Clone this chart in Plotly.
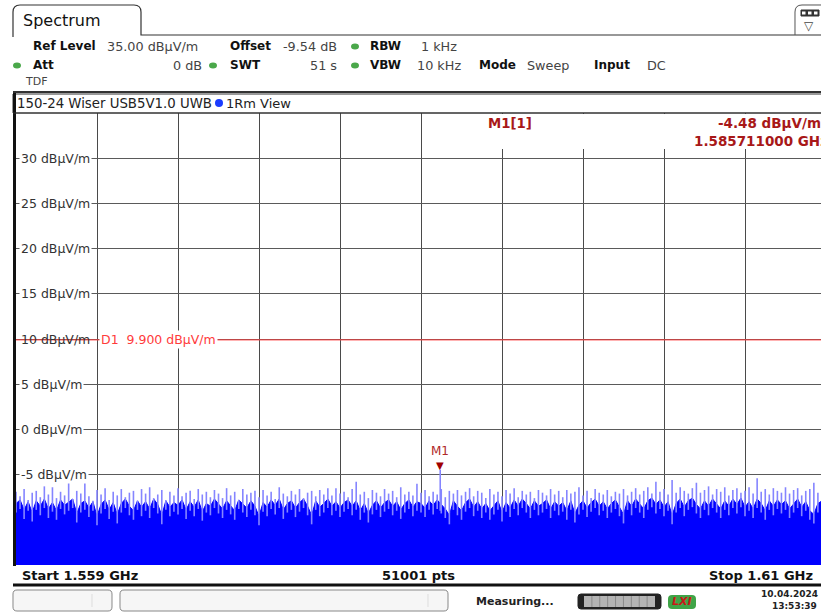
import plotly.graph_objects as go

# ---------------- data ----------------
f_start_ghz = 1.559
f_stop_ghz = 1.61
n_points_label = "51001 pts"
ref_level_db = 35.0
db_per_div = 5.0
n_div = 10
d1_level_db = 9.9
m1_freq_ghz = 1.585711
m1_level_db = -4.48

y_tick_values = [30, 25, 20, 15, 10, 5, 0, -5]

# spike tops of the trace (dBuV/m), one value per ~1/200 of the span
peak_db = [
    -6.9, -7.4, -6.6, -7.8, -7.0, -6.8, -7.5, -6.3, -7.2, -6.4,
    -7.6, -6.9, -7.3, -5.9, -7.7, -6.8, -7.1, -5.6, -7.4, -7.9,
    -6.7, -7.2, -6.5, -7.8, -6.9, -7.3, -6.6, -7.5, -7.0, -6.8,
    -7.9, -6.6, -7.1, -6.4, -7.6, -7.2, -6.7, -7.8, -6.9, -7.3,
    -6.5, -7.4, -7.0, -6.8, -7.7, -6.6, -7.2, -6.9, -7.5, -6.7,
    -7.1, -7.6, -6.5, -7.3, -6.9, -7.8, -6.6, -7.2, -7.0, -6.8,
    -7.5, -6.7, -7.3, -6.9, -7.7, -6.4, -7.1, -7.4, -6.8, -7.2,
    -6.6, -7.6, -7.0, -6.8, -7.4, -6.7, -7.2, -6.5, -7.3, -6.5,
    -7.1, -6.9, -7.5, -6.6, -5.8, -7.2, -6.9, -7.6, -6.7, -7.0,
    -7.4, -6.6, -7.1, -6.8, -7.5, -6.4, -7.2, -6.9, -7.3, -6.0,
    -7.0, -6.7, -7.4, -6.9, -7.2, -6.6, -7.5, -6.8, -7.1, -6.7,
    -7.3, -6.9, -6.5, -7.4, -6.8, -7.0, -7.6, -6.6, -7.2, -6.9,
    -7.4, -6.7, -7.1, -6.5, -7.5, -6.8, -7.2, -6.9, -7.6, -6.7,
    -7.0, -7.3, -6.6, -7.2, -6.8, -7.5, -6.7, -7.1, -6.9, -6.4,
    -7.3, -6.8, -7.6, -6.6, -7.0, -7.2, -6.7, -7.4, -6.9, -7.1,
    -6.6, -7.3, -6.9, -6.5, -7.2, -6.8, -6.4, -7.1, -5.8, -6.9,
    -6.6, -7.2, -5.6, -7.0, -6.4, -6.8, -7.1, -6.5, -5.9, -7.0,
    -6.7, -6.3, -7.2, -6.6, -6.9, -6.4, -7.3, -6.7, -6.5, -7.0,
    -6.8, -6.4, -7.1, -5.4, -6.9, -6.6, -7.2, -6.5, -6.8, -7.0,
    -6.4, -7.1, -6.7, -6.5, -7.3, -6.8, -6.6, -5.9, -7.0, -6.7,
    -6.9,
]

# top of the dense (solid) part of the trace (dBuV/m)
floor_db = [
    -8.2, -7.8, -8.9, -8.0, -9.2, -7.9, -8.5, -7.7, -8.8, -8.1,
    -9.0, -7.8, -8.4, -8.0, -7.7, -9.3, -8.2, -7.9, -8.7, -8.0,
    -9.6, -8.3, -7.8, -8.9, -8.1, -9.4, -8.2, -7.7, -8.5, -9.0,
    -7.9, -8.6, -8.0, -8.8, -7.7, -8.3, -9.5, -7.9, -8.6, -8.1,
    -8.4, -7.8, -8.9, -8.0, -8.6, -7.8, -9.1, -8.2, -8.5, -7.7,
    -8.3, -8.8, -7.9, -8.4, -9.0, -7.8, -8.2, -8.7, -7.9, -8.5,
    -9.6, -8.1, -8.6, -7.8, -8.4, -7.7, -8.9, -8.2, -7.9, -8.7,
    -8.1, -7.7, -8.5, -9.5, -7.9, -8.6, -8.2, -7.7, -8.5, -8.0,
    -8.7, -8.1, -7.8, -8.5, -7.9, -9.0, -8.2, -9.3, -8.4, -7.9,
    -8.7, -8.1, -7.8, -8.5, -8.0, -8.9, -8.2, -7.8, -8.6, -8.0,
    -8.2, -8.7, -7.9, -8.4, -7.8, -8.3, -8.8, -9.5, -7.9, -8.5,
    -9.0, -8.1, -7.7, -8.6, -8.0, -8.8, -8.2, -9.0, -8.4, -7.9,
    -9.2, -8.1, -8.7, -7.8, -8.5, -7.7, -8.2, -8.8, -7.9, -8.5,
    -8.2, -7.8, -8.8, -8.0, -8.5, -8.1, -9.0, -7.9, -9.3, -8.4,
    -7.9, -8.7, -8.1, -7.7, -8.5, -8.0, -8.8, -8.2, -7.8, -8.6,
    -9.4, -7.9, -8.5, -7.7, -8.2, -8.8, -7.9, -7.6, -8.3, -7.8,
    -8.6, -8.0, -9.5, -8.2, -7.7, -8.6, -7.9, -7.6, -8.3, -8.8,
    -7.9, -8.5, -7.7, -8.2, -8.8, -7.9, -8.5, -7.7, -8.3, -7.6,
    -8.6, -8.0, -8.8, -7.7, -8.2, -9.0, -7.9, -8.5, -7.8, -8.3,
    -7.9, -8.8, -8.2, -7.7, -8.6, -8.0, -9.0, -9.4, -8.2, -7.9,
    -8.5,
]

# ---------------- derived ----------------
span = f_stop_ghz - f_start_ghz
n = len(peak_db)
freqs = [f_start_ghz + span * i / (n - 1) for i in range(n)]
y_min = ref_level_db - n_div * db_per_div

# ---------------- geometry helpers (pixels -> paper) ----------------
W, H = 821, 613
PL, PR, PT, PB = 16, 821, 113, 565
GRID_W = 810  # full 10-division grid width in px (screen is cropped at the right)


def px(x):
    return (x - PL) / (PR - PL)


def py(y):
    return (PB - y) / (PB - PT)


def P(x, y):
    return f"{px(x):.5f},{py(y):.5f}"


x_max_visible = f_start_ghz + span * (PR - PL) / GRID_W

FONT = "DejaVu Sans"
BLUE = "#0000ff"
SPIKE = "#8585ff"
DRED = "#a81818"
RED = "#ff3b3b"
VAL = 12.8

fig = go.Figure()

# spikes
sx, sy = [], []
for f, lo, hi in zip(freqs, floor_db, peak_db):
    sx += [f, f, None]
    sy += [lo - 1.0, hi, None]
sx += [m1_freq_ghz, m1_freq_ghz, None]
sy += [-9.0, m1_level_db, None]

# baseline at bottom of screen for filling
fig.add_trace(go.Scatter(x=freqs, y=[y_min] * n, mode="lines",
                         line=dict(width=0, color=BLUE), hoverinfo="skip",
                         showlegend=False))
fig.add_trace(go.Scatter(x=freqs, y=floor_db, mode="lines", fill="tonexty",
                         fillcolor=BLUE, line=dict(width=1, color=BLUE),
                         hoverinfo="skip", showlegend=False))
fig.add_trace(go.Scatter(x=sx, y=sy, mode="lines",
                         line=dict(width=1.6, color=SPIKE),
                         hoverinfo="skip", showlegend=False))

shapes = []
ann = []


def txt(x, y, s, size=12, color="#222", anchor="left", bold=False, bg=None,
        family=FONT, italic=False):
    if bold:
        s = f"<b>{s}</b>"
    if italic:
        s = f"<i>{s}</i>"
    d = dict(xref="paper", yref="paper", x=px(x), y=py(y), text=s,
             showarrow=False, xanchor=anchor, yanchor="middle",
             font=dict(family=family, size=size, color=color), borderpad=0)
    if bg:
        d["bgcolor"] = bg
    ann.append(d)


def rect(x0, y0, x1, y1, fill=None, line="#333", lw=1, layer="above"):
    shapes.append(dict(type="rect", xref="paper", yref="paper",
                       x0=px(x0), x1=px(x1), y0=py(y0), y1=py(y1),
                       fillcolor=fill if fill else "rgba(0,0,0,0)",
                       line=dict(color=line, width=lw), layer=layer))


def hline(x0, x1, y, color="#333", lw=1):
    shapes.append(dict(type="line", xref="paper", yref="paper",
                       x0=px(x0), x1=px(x1), y0=py(y), y1=py(y),
                       line=dict(color=color, width=lw)))


def vline(x, y0, y1, color="#333", lw=1):
    shapes.append(dict(type="line", xref="paper", yref="paper",
                       x0=px(x), x1=px(x), y0=py(y0), y1=py(y1),
                       line=dict(color=color, width=lw)))


def dot(x, y, rx, ry, color):
    shapes.append(dict(type="circle", xref="paper", yref="paper",
                       x0=px(x - rx), x1=px(x + rx), y0=py(y + ry), y1=py(y - ry),
                       fillcolor=color, line=dict(width=0)))


def rpath(x0, y0, x1, y1, r):
    return (f"M {P(x0 + r, y0)} L {P(x1 - r, y0)} Q {P(x1, y0)} {P(x1, y0 + r)} "
            f"L {P(x1, y1 - r)} Q {P(x1, y1)} {P(x1 - r, y1)} L {P(x0 + r, y1)} "
            f"Q {P(x0, y1)} {P(x0, y1 - r)} L {P(x0, y0 + r)} Q {P(x0, y0)} {P(x0 + r, y0)} Z")


# tab outline and header line
shapes.append(dict(type="path", xref="paper", yref="paper",
                   path=(f"M {P(13, 37)} L {P(13, 12)} Q {P(13, 5)} {P(20, 5)} "
                         f"L {P(134, 5)} Q {P(141, 5)} {P(141, 12)} L {P(141, 35)} "
                         f"L {P(821, 35)}"),
                   line=dict(color="#333", width=1.2)))
# top-right icon tab
shapes.append(dict(type="path", xref="paper", yref="paper",
                   path=f"M {P(795, 35)} L {P(795, 12)} Q {P(795, 5)} {P(802, 5)} L {P(821, 5)}",
                   line=dict(color="#555", width=1)))
rect(801, 10, 819, 16, fill="#333", line="#333")
for cx in (804, 810, 816):
    rect(cx - 2, 11.5, cx + 1.5, 14.5, fill="#fff", line="#fff", lw=0)
txt(809, 26, "▽", size=12, color="#444", anchor="center")

txt(22, 20, "Spectrum", size=16, color="#111")

# header rows
txt(32, 46, "Ref Level", bold=True, color="#111")
txt(106, 46, "35.00 dBµV/m", size=VAL, color="#444")
txt(229, 46, "Offset", bold=True, color="#111")
txt(282, 46, "-9.54 dB", size=VAL, color="#444")
dot(355, 46.5, 4, 3, "#4aa84a")
txt(369, 46, "RBW", bold=True, color="#111")
txt(420, 46, "1 kHz", size=VAL, color="#444")

dot(17, 65.5, 4, 3, "#4aa84a")
txt(32, 65, "Att", bold=True, color="#111")
txt(172, 65, "0 dB", size=VAL, color="#444")
dot(213, 65.5, 4, 3, "#4aa84a")
txt(229, 65, "SWT", bold=True, color="#111")
txt(309, 65, "51 s", size=VAL, color="#444")
dot(355, 65.5, 4, 3, "#4aa84a")
txt(369, 65, "VBW", bold=True, color="#111")
txt(416, 65, "10 kHz", size=VAL, color="#444")
txt(478, 65, "Mode", bold=True, color="#111")
txt(526, 65, "Sweep", size=VAL, color="#444")
txt(593, 65, "Input", bold=True, color="#111")
txt(646, 65, "DC", size=VAL, color="#444")
txt(24, 82, "TDF", size=11, color="#444")

# title bar
hline(13, 821, 92, color="#333", lw=2)
rect(13, 94, 823, 113, line="#333", lw=1)
txt(16, 103, "150-24 Wiser USB5V1.0 UWB", size=13.3, color="#222")
dot(219, 103, 4, 4, "#1a3cff")
txt(225, 103, "1Rm View", size=13, color="#222")

# marker info area (covers grid)
rect(430, 114, 823, 149, fill="#ffffff", line="#ffffff", lw=0)
txt(487, 123, "M1[1]", size=13.3, bold=True, color=DRED)
txt(717, 123, "-4.48 dBµV/m", size=13.5, bold=True, color=DRED)
txt(693, 141, "1.585711000 GHz", size=13.5, bold=True, color=DRED)

# D1 line
shapes.append(dict(type="line", xref="paper", yref="y", x0=0, x1=1,
                   y0=d1_level_db, y1=d1_level_db,
                   line=dict(color=RED, width=1)))

# plot frame
vline(14.5, 93, 586, color="#111", lw=3)
hline(13, 821, 113, color="#333", lw=1)

# bottom bar
rect(13, 566, 823, 584, fill="#ffffff", line="#ffffff", lw=0)
hline(13, 821, 585, color="#111", lw=3)
txt(21, 575, "Start 1.559 GHz", size=13, bold=True, color="#111")
txt(418, 575, n_points_label, size=13, bold=True, color="#111", anchor="center")
txt(814, 575, "Stop 1.61 GHz", size=13, bold=True, color="#111", anchor="right")

# status row
shapes.append(dict(type="path", xref="paper", yref="paper",
                   path=rpath(13, 590, 112, 611, 4), fillcolor="#f6f6f6",
                   line=dict(color="#888", width=1)))
vline(92, 594, 607, color="#ddd")
shapes.append(dict(type="path", xref="paper", yref="paper",
                   path=rpath(120, 590, 448, 611, 4), fillcolor="#f6f6f6",
                   line=dict(color="#888", width=1)))
vline(428, 594, 607, color="#ddd")
txt(475, 601, "Measuring...", size=11, bold=True, color="#222")
shapes.append(dict(type="path", xref="paper", yref="paper",
                   path=rpath(578, 594, 661, 609, 3), fillcolor="#222",
                   line=dict(color="#222", width=1)))
rect(584, 596, 655, 607, fill="#b4b4b4", line="#b4b4b4", lw=0)
for k in range(1, 9):
    vline(584 + k * 71 / 9, 596, 607, color="#8a8a8a")
shapes.append(dict(type="path", xref="paper", yref="paper",
                   path=rpath(668, 595, 696, 609, 4), fillcolor="#3fa447",
                   line=dict(width=0)))
txt(682, 601, "LXI", size=11, bold=True, italic=True, color="#c81818", anchor="center")
txt(789, 594, "10.04.2024", size=9, bold=True, color="#222", anchor="center")
txt(794, 606, "13:53:39", size=9, bold=True, color="#222", anchor="center")

# y tick labels inside plot
for v in y_tick_values:
    d = dict(xref="paper", yref="y", x=px(19), y=v, text=f"{v} dBµV/m",
             showarrow=False, xanchor="left", yanchor="middle",
             font=dict(family=FONT, size=12.5, color="#333"), borderpad=1)
    if v != 10:
        d["bgcolor"] = "#ffffff"
    ann.append(d)

# D1 label
ann.append(dict(xref="paper", yref="y", x=px(99), y=d1_level_db,
                text="D1  9.900 dBµV/m", showarrow=False, xanchor="left",
                yanchor="middle", bgcolor="#ffffff", borderpad=1,
                font=dict(family=FONT, size=12.5, color=RED)))

# M1 marker
ann.append(dict(xref="x", yref="y", x=m1_freq_ghz, y=m1_level_db, text="▼",
                showarrow=False, xanchor="center", yanchor="bottom", yshift=-3,
                font=dict(family=FONT, size=10, color="#a00000")))
ann.append(dict(xref="x", yref="y", x=m1_freq_ghz, y=m1_level_db, text="M1",
                showarrow=False, xanchor="center", yanchor="bottom", yshift=10,
                font=dict(family=FONT, size=12, color="#b02828")))

fig.update_layout(
    width=W, height=H,
    margin=dict(l=PL, r=W - PR, t=PT, b=H - PB, pad=0),
    paper_bgcolor="#ffffff", plot_bgcolor="#ffffff",
    showlegend=False,
    shapes=shapes, annotations=ann,
    xaxis=dict(range=[f_start_ghz, x_max_visible], tick0=f_start_ghz,
               dtick=span / n_div, showgrid=True, gridcolor="#4a4a4a",
               gridwidth=1, showticklabels=False, zeroline=False,
               showline=False, ticks="", fixedrange=True),
    yaxis=dict(range=[y_min, ref_level_db], tick0=y_min, dtick=db_per_div,
               showgrid=True, gridcolor="#5a5a5a", gridwidth=1,
               showticklabels=False, zeroline=False, showline=False,
               ticks="", fixedrange=True),
)

fig.write_html(
    "out.html",
    config={"displayModeBar": False},
    post_script="document.body.style.margin='0';document.body.style.overflow='hidden';",
)
